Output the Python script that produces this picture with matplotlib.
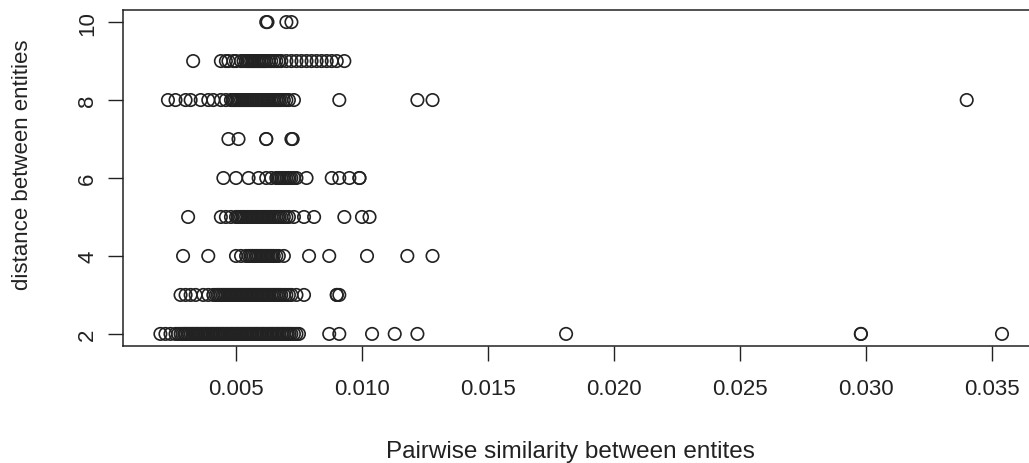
import matplotlib.pyplot as plt

plt.rcParams['font.family'] = ['Liberation Sans', 'DejaVu Sans']

# ---- data: pairwise similarity, grouped by distance ----
# (the dark bands are many overlapping points, so those stretches are listed densely)
sim_d2 = [0.0020, 0.0022, 0.0024, 0.0026, 0.0027, 0.0028, 0.00288, 0.00295,
          0.0030, 0.00307, 0.00313, 0.0032, 0.00327, 0.00333, 0.0034, 0.00346,
          0.00352, 0.0036, 0.00366, 0.00373, 0.0038, 0.00386, 0.00392, 0.0040,
          0.00406, 0.00412, 0.0042, 0.00426, 0.00433, 0.0044, 0.00446, 0.00452,
          0.0046, 0.00466, 0.00473, 0.0048, 0.00486, 0.00492, 0.0050, 0.00506,
          0.00512, 0.0052, 0.00526, 0.00533, 0.0054, 0.00546, 0.00552, 0.0056,
          0.00566, 0.00573, 0.0058, 0.00586, 0.00592, 0.0060, 0.00606, 0.00612,
          0.0062, 0.00626, 0.00633, 0.0064, 0.00646, 0.00652, 0.0066, 0.00666,
          0.00673, 0.0068, 0.00686, 0.00692, 0.0070, 0.00706, 0.00713, 0.0072,
          0.0073, 0.0074, 0.0075,
          0.0087, 0.0091, 0.0104, 0.0113, 0.0122, 0.0181, 0.0298, 0.0298,
          0.0354]
sim_d3 = [0.0028, 0.0030, 0.0032, 0.0034, 0.0037, 0.0039, 0.0041, 0.0042,
          0.00427, 0.00433, 0.0044, 0.00447, 0.00453, 0.0046, 0.00467, 0.00473,
          0.0048, 0.00487, 0.00493, 0.0050, 0.00507, 0.00513, 0.0052, 0.00527,
          0.00533, 0.0054, 0.00547, 0.00553, 0.0056, 0.00567, 0.00573, 0.0058,
          0.00587, 0.00593, 0.0060, 0.00607, 0.00613, 0.0062, 0.00627, 0.00633,
          0.0064, 0.00647, 0.00653, 0.0066, 0.00667, 0.00673, 0.0068, 0.0069,
          0.0070, 0.0071, 0.0072, 0.0074, 0.0077,
          0.0090, 0.0090, 0.0091]
sim_d4 = [0.0029, 0.0039, 0.0050, 0.0052, 0.0054, 0.0055, 0.00557, 0.00563,
          0.0057, 0.00577, 0.00583, 0.0059, 0.00597, 0.00603, 0.0061, 0.00617,
          0.00623, 0.0063, 0.00637, 0.00643, 0.0065, 0.0066, 0.0067, 0.0069,
          0.0079, 0.0087, 0.0102, 0.0118, 0.0128]
sim_d5 = [0.0031, 0.0044, 0.0046, 0.0048, 0.0050, 0.00507, 0.00513, 0.0052,
          0.00527, 0.00533, 0.0054, 0.00547, 0.00553, 0.0056, 0.00567, 0.00573,
          0.0058, 0.00587, 0.00593, 0.0060, 0.00607, 0.00613, 0.0062, 0.00627,
          0.00633, 0.0064, 0.00647, 0.00653, 0.0066, 0.00667, 0.00673, 0.0068,
          0.0069, 0.0070, 0.0071, 0.0073, 0.0077, 0.0081,
          0.0093, 0.0100, 0.0103]
sim_d6 = [0.0045, 0.0050, 0.0055, 0.0059, 0.0062, 0.0064, 0.0066, 0.00667,
          0.00673, 0.0068, 0.00687, 0.00693, 0.0070, 0.00707, 0.00713, 0.0072,
          0.0073, 0.0074, 0.0078, 0.0088, 0.0091, 0.0095, 0.0099, 0.0099]
sim_d7 = [0.0047, 0.0051, 0.0062, 0.0062, 0.0072, 0.00725]
sim_d8 = [0.0023, 0.0026, 0.0030, 0.0032, 0.0036, 0.0039, 0.0041, 0.0044,
          0.0046, 0.0048, 0.00487, 0.00493, 0.0050, 0.00507, 0.00513, 0.0052,
          0.00527, 0.00533, 0.0054, 0.00547, 0.00553, 0.0056, 0.00567, 0.00573,
          0.0058, 0.00587, 0.00593, 0.0060, 0.00607, 0.00613, 0.0062, 0.00627,
          0.00633, 0.0064, 0.00647, 0.00653, 0.0066, 0.00667, 0.00673, 0.0068,
          0.0069, 0.0070, 0.0071, 0.0073,
          0.0091, 0.0122, 0.0128, 0.0340]
sim_d9 = [0.0033, 0.0044, 0.0046, 0.0047, 0.0049, 0.0050, 0.0052, 0.0053,
          0.0054, 0.00547, 0.00553, 0.0056, 0.00567, 0.00573, 0.0058, 0.00587,
          0.00593, 0.0060, 0.00607, 0.00613, 0.0062, 0.0063, 0.0064, 0.0065,
          0.0066, 0.0067, 0.0068, 0.0070, 0.0072, 0.0074, 0.0076, 0.0078,
          0.0080, 0.0082, 0.0084, 0.0086, 0.0088, 0.0090, 0.0093]
sim_d10 = [0.0062, 0.00625, 0.0070, 0.0072]

distances = [2, 3, 4, 5, 6, 7, 8, 9, 10]
similarities = [sim_d2, sim_d3, sim_d4, sim_d5, sim_d6, sim_d7, sim_d8,
                sim_d9, sim_d10]

x_ticks = [0.005, 0.010, 0.015, 0.020, 0.025, 0.030, 0.035]
x_tick_labels = ['0.005', '0.010', '0.015', '0.020', '0.025', '0.030', '0.035']
y_ticks = [2, 4, 6, 8, 10]

# ---- plot (R base-graphics look) ----
fig = plt.figure(figsize=(10.29, 4.64), dpi=100)
# right edge of the box lies just outside the picture, as in the scan
ax = fig.add_axes([123 / 1029, 117 / 464, 912 / 1029, 336 / 464])

for d, xs in zip(distances, similarities):
    ax.scatter(xs, [d] * len(xs), s=80, facecolors='none',
               edgecolors='#222222', linewidths=1.2, zorder=3)

ax.set_xlim(0.000516, 0.03671)
ax.set_ylim(1.69, 10.31)

ax.set_xticks(x_ticks)
ax.set_xticklabels(x_tick_labels)
ax.set_yticks(y_ticks)

for sp in ax.spines.values():
    sp.set_linewidth(1.1)
    sp.set_color('#222222')

ax.tick_params(axis='both', direction='out', length=11, width=1.0,
               color='#222222', labelsize=16, labelcolor='#222222')
ax.tick_params(axis='x', pad=12)
ax.tick_params(axis='y', pad=7)
for lab in ax.get_yticklabels():
    lab.set_rotation(90)
    lab.set_va('center')

ax.set_xlabel('Pairwise similarity between entites', fontsize=17.5,
              color='#222222')
ax.xaxis.set_label_coords(0.491, -0.28)
ax.set_ylabel('distance between entities', fontsize=16, color='#222222',
              va='center')
ax.yaxis.set_label_coords(-0.1107, 0.542)

fig.savefig('out.png', dpi=100)
